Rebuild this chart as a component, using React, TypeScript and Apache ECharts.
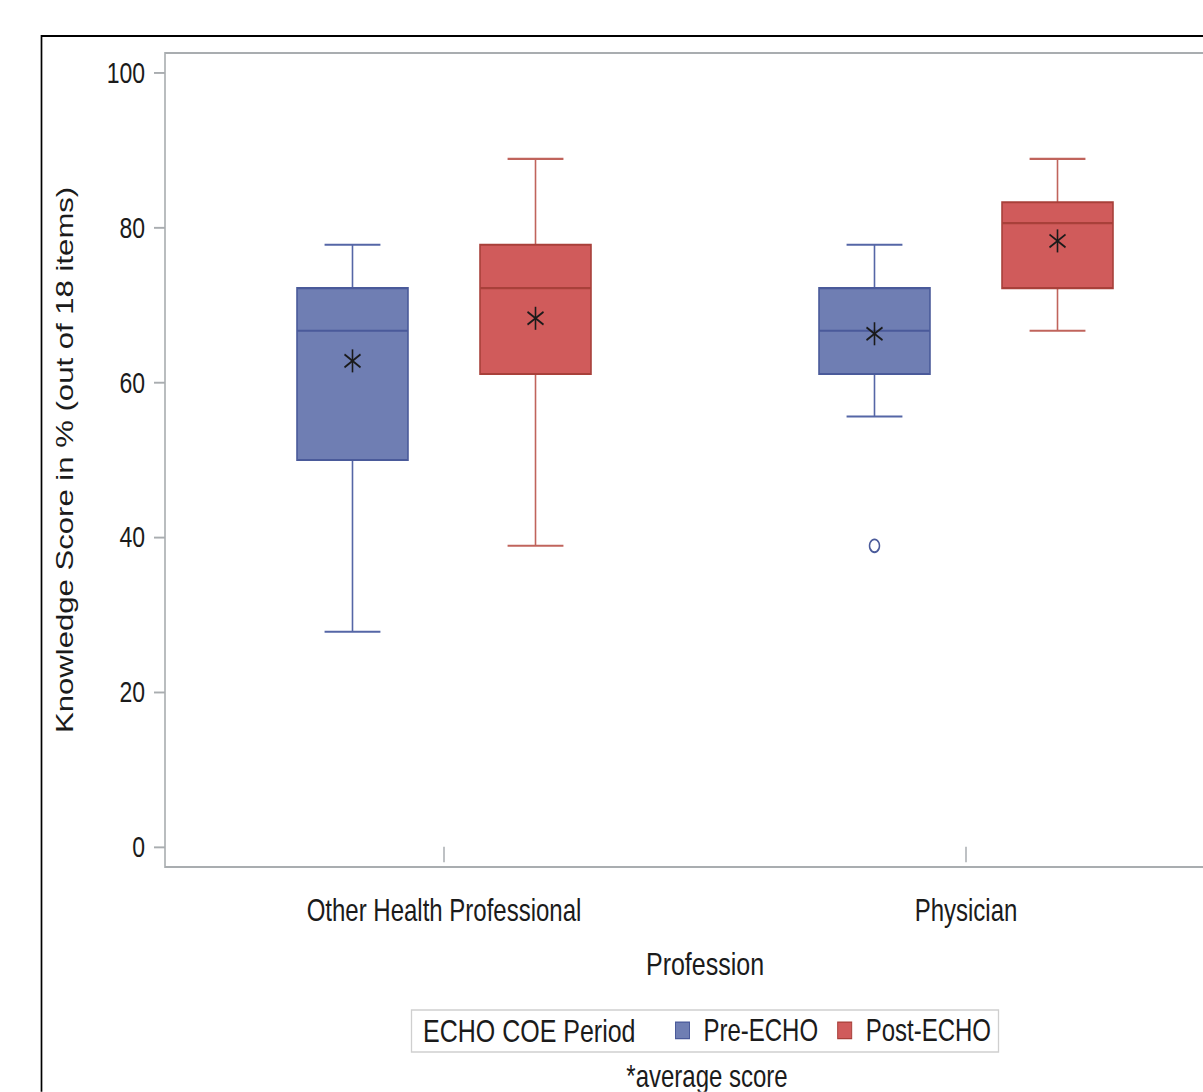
import React, { useEffect, useRef } from "react";
import * as echarts from "echarts";

// ---- data ----
const categories = ["Other Health Professional", "Physician"];
// [min, q1, median, q3, max]
const preStats = [
  [27.8, 50.0, 66.7, 72.2, 77.8],
  [55.6, 61.1, 66.7, 72.2, 77.8],
];
const postStats = [
  [38.9, 61.1, 72.2, 77.8, 88.9],
  [66.7, 72.2, 80.6, 83.3, 88.9],
];
const preMeans = [62.8, 66.3];
const postMeans = [68.3, 78.3];
const preOutliers = [[1, 38.9]];
const yTicks = [0, 20, 40, 60, 80, 100];

const STRETCH = 1.28;
const W = 1203;
const CW = 1260; // chart canvas wider than the visible page (right side is cropped in the reference)
const H = 1092 / STRETCH;
const FONT = "'Liberation Sans', Arial, sans-serif";
const TXT = "#1b1b1b";
const GRAY = "#a9adb0";

const BLUE = { fill: "#6f7eb3", border: "#4a5a9a", whisker: "#5566a6" };
const RED = { fill: "#d05b5b", border: "#a8403a", whisker: "#c0645c" };

function makeRender(offset: number, col: { fill: string; border: string; whisker: string }) {
  return (params: any, api: any) => {
    const ci = api.value(0);
    const band = api.size([1, 0])[0];
    const cx = api.coord([ci, 0])[0] + offset * band;
    const w = 0.2126 * band;
    const cap = 0.107 * band;
    const y = (v: number) => api.coord([ci, v])[1];
    const mn = y(api.value(1));
    const q1 = y(api.value(2));
    const md = y(api.value(3));
    const q3 = y(api.value(4));
    const mx = y(api.value(5));
    const mean = y(api.value(6));
    const wl = { stroke: col.whisker, lineWidth: 1.6 };
    const ml = { stroke: "#1a1a1a", lineWidth: 1.6 };
    return {
      type: "group",
      children: [
        { type: "line", shape: { x1: cx, y1: mx, x2: cx, y2: q3 }, style: wl },
        { type: "line", shape: { x1: cx, y1: q1, x2: cx, y2: mn }, style: wl },
        { type: "line", shape: { x1: cx - cap / 2, y1: mx, x2: cx + cap / 2, y2: mx }, style: wl },
        { type: "line", shape: { x1: cx - cap / 2, y1: mn, x2: cx + cap / 2, y2: mn }, style: wl },
        {
          type: "rect",
          shape: { x: cx - w / 2, y: q3, width: w, height: q1 - q3 },
          style: { fill: col.fill, stroke: col.border, lineWidth: 1.6 },
        },
        { type: "line", shape: { x1: cx - w / 2, y1: md, x2: cx + w / 2, y2: md }, style: { stroke: col.border, lineWidth: 1.6 } },
        { type: "line", shape: { x1: cx, y1: mean - 9, x2: cx, y2: mean + 9 }, style: ml },
        { type: "line", shape: { x1: cx - 8, y1: mean - 5, x2: cx + 8, y2: mean + 5 }, style: ml },
        { type: "line", shape: { x1: cx - 8, y1: mean + 5, x2: cx + 8, y2: mean - 5 }, style: ml },
      ],
    };
  };
}

function buildData(stats: number[][], means: number[]) {
  return stats.map((s, i) => [i, ...s, means[i]]);
}

export default function App() {
  const ref = useRef<HTMLDivElement>(null);
  useEffect(() => {
    if (!ref.current) return;
    const chart = echarts.init(ref.current, undefined, { renderer: "svg" });
    const gridTop = 53 / STRETCH;
    const gridBottomPx = 867 / STRETCH;
    chart.setOption({
      animation: false,
      backgroundColor: "#ffffff",
      textStyle: { fontFamily: FONT },
      grid: { left: 183, right: CW - 1227, top: gridTop, bottom: H - gridBottomPx },
      xAxis: {
        type: "category",
        data: categories,
        axisLine: { show: false },
        axisTick: { show: true, alignWithLabel: true, length: 12, lineStyle: { color: GRAY, width: 1.5 } },
        axisLabel: { margin: 22, fontSize: 24, color: TXT, fontFamily: FONT },
        splitLine: { show: false },
        name: "Profession",
        nameLocation: "middle",
        nameGap: 63,
        nameTextStyle: { fontSize: 25, color: TXT, fontFamily: FONT },
      },
      yAxis: {
        type: "value",
        min: -2.58,
        max: 102.58,
        offset: 18,
        axisLine: { show: false },
        axisTick: { show: true, length: 11, customValues: yTicks, lineStyle: { color: GRAY, width: 1.5 } },
        axisLabel: { margin: 20, fontSize: 23, color: TXT, fontFamily: FONT, customValues: yTicks },
        splitLine: { show: false },
        name: "Knowledge Score in % (out of 18 items)",
        nameLocation: "middle",
        nameGap: 88,
        nameTextStyle: { fontSize: 24.3, color: TXT, fontFamily: FONT },
      },
      legend: {
        left: 675,
        top: 793,
        padding: 0,
        itemWidth: 14,
        itemHeight: 13,
        itemGap: 19,
        textStyle: { fontSize: 24, color: TXT, fontFamily: FONT, padding: [0, 0, 0, 9] },
        data: [
          { name: "Pre-ECHO", icon: "rect", itemStyle: { color: BLUE.fill, borderColor: BLUE.border, borderWidth: 1 } },
          { name: "Post-ECHO", icon: "rect", itemStyle: { color: RED.fill, borderColor: RED.border, borderWidth: 1 } },
        ],
      },
      graphic: [
        {
          type: "rect",
          shape: { x: 41.5, y: 36 / STRETCH, width: 1400, height: 1200 },
          style: { fill: "none", stroke: "#000", lineWidth: 1.7 },
          silent: true,
        },
        {
          type: "rect",
          shape: { x: 165, y: gridTop, width: 1100, height: gridBottomPx - gridTop },
          style: { fill: "none", stroke: GRAY, lineWidth: 1.6 },
          silent: true,
        },
        {
          type: "rect",
          shape: { x: 411.5, y: 1010 / STRETCH, width: 587, height: 42 / STRETCH },
          style: { fill: "none", stroke: "#cfcfcf", lineWidth: 1.3 },
          silent: true,
        },
        {
          type: "text",
          x: 423,
          y: 1031 / STRETCH,
          style: { text: "ECHO COE Period", fontSize: 25, fill: TXT, fontFamily: FONT, verticalAlign: "middle" },
          silent: true,
        },
        {
          type: "text",
          x: 707,
          y: H - 0.5,
          style: { text: "*average score", fontSize: 24, fill: TXT, fontFamily: FONT, align: "center", verticalAlign: "bottom" },
          silent: true,
        },
      ],
      series: [
        {
          name: "Pre-ECHO",
          type: "custom",
          renderItem: makeRender(-0.1753, BLUE),
          itemStyle: { color: BLUE.fill },
          encode: { x: 0, y: [1, 2, 3, 4, 5, 6] },
          data: buildData(preStats, preMeans),
        },
        {
          name: "Post-ECHO",
          type: "custom",
          renderItem: makeRender(0.1753, RED),
          itemStyle: { color: RED.fill },
          encode: { x: 0, y: [1, 2, 3, 4, 5, 6] },
          data: buildData(postStats, postMeans),
        },
        {
          name: "Pre-ECHO outliers",
          type: "custom",
          renderItem: (params: any, api: any) => {
            const band = api.size([1, 0])[0];
            const p = api.coord([api.value(0), api.value(1)]);
            return {
              type: "circle",
              shape: { cx: p[0] - 0.1753 * band, cy: p[1], r: 5 },
              style: { fill: "none", stroke: BLUE.border, lineWidth: 1.5 },
            };
          },
          encode: { x: 0, y: 1 },
          data: preOutliers,
        },
      ],
    });
    return () => chart.dispose();
  }, []);
  return (
    <div style={{ position: "fixed", left: 0, top: 0, width: W, height: 1092, overflow: "hidden", background: "#fff" }}>
      <div
        ref={ref}
        style={{ width: CW, height: H, transform: `scaleY(${STRETCH})`, transformOrigin: "0 0" }}
      />
    </div>
  );
}
